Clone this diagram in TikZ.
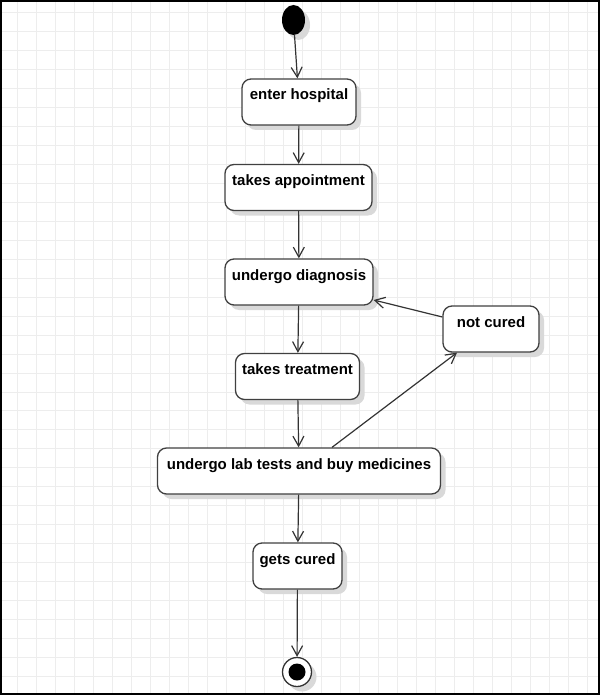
\documentclass[tikz,border=0pt]{standalone}
\usepackage{fontspec}
\setmainfont{Liberation Sans}
\usetikzlibrary{arrows.meta,shadows,shapes.geometric,scopes}
\begin{document}
\begin{tikzpicture}[x=1pt,y=-1pt,
    act/.style={rectangle,rounded corners=9pt,draw=black!75,line width=1.3pt,fill=white,
        font=\fontsize{15}{18}\selectfont\bfseries,inner xsep=6pt,inner ysep=0pt,
        text height=21pt,text depth=25pt,
        drop shadow={shadow xshift=5pt,shadow yshift=-5pt,fill=black!15,opacity=1}},
    init/.style={ellipse,fill=black,minimum width=23pt,minimum height=30pt,inner sep=0pt,
        drop shadow={shadow xshift=5pt,shadow yshift=-5pt,fill=black!15,opacity=1}},
    final/.style={circle,draw=black!80,line width=1.3pt,fill=white,minimum size=29pt,inner sep=0pt,
        drop shadow={shadow xshift=5pt,shadow yshift=-5pt,fill=black!15,opacity=1}},
    dot/.style={circle,fill=black,minimum size=17pt,inner sep=0pt},
    flow/.style={draw=black!80,line width=1.2pt,-{Straight Barb[length=10pt,width=11pt]}},
    gridline/.style={draw=black!7,line width=1pt}
]
    \useasboundingbox (0,0) rectangle (600,695);
    % background grid
    \foreach \gx in {0,...,30}
        \draw[gridline] ({17+19*\gx},0) -- ({17+19*\gx},695);
    \foreach \gy in {0,...,35}
        \draw[gridline] (0,{13+18.95*\gy}) -- (600,{13+18.95*\gy});
    \draw[line width=2pt] (1,1) rectangle (599,694);

    \node[init] (start) at (293.5,20) {};
    \node[act,minimum width=114pt] (hosp) at (299,102) {enter hospital};
    \node[act,minimum width=147pt] (appt) at (298.5,187.5) {takes appointment};
    \node[act,minimum width=148pt] (diag) at (299,282) {undergo diagnosis};
    \node[act,minimum width=96pt] (notc) at (491,329) {not cured};
    \node[act,minimum width=124pt] (treat) at (297.5,376.5) {takes treatment};
    \node[act,minimum width=283pt] (lab) at (299,471) {undergo lab tests and buy medicines};
    \node[act,minimum width=89pt] (cured) at (297.5,566) {gets cured};
    \node[final] (end) at (297,672) {};
    \node[dot] (endDot) at (end) {};

    {[flow]
        \draw (start) -- (hosp);
        \draw (hosp) -- (appt);
        \draw (appt) -- (diag);
        \draw (diag) -- (treat);
        \draw (treat) -- (lab);
        \draw ([xshift=33pt]lab.north) -- ([xshift=-34pt]notc.south);
        \draw ([yshift=12pt]notc.west) -- ([yshift=-18pt]diag.east);
        \draw (lab) -- (cured);
        \draw (cured) -- (end);
    }
\end{tikzpicture}
\end{document}
